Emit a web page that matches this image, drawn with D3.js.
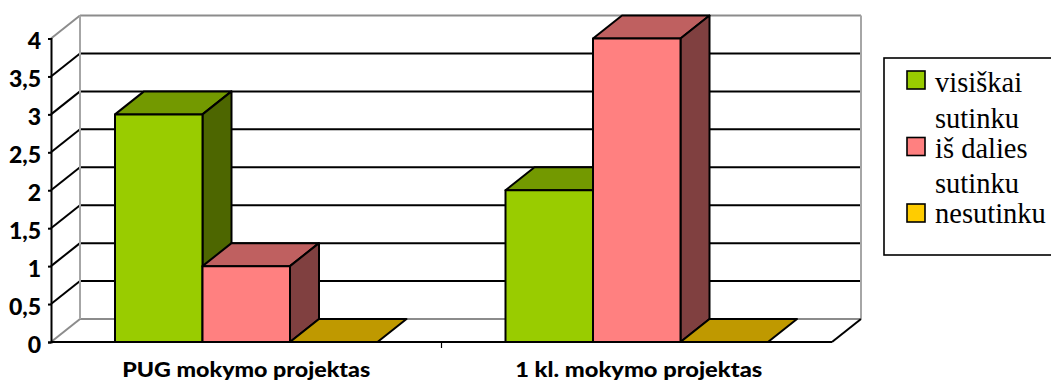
<!DOCTYPE html>
<html>
<head>
<meta charset="utf-8">
<title>Mokymo projektai</title>
<script src="https://cdn.jsdelivr.net/npm/d3@7"></script>
<style>
html,body{margin:0;padding:0;background:#fff;overflow:hidden}
svg{display:block}
</style>
</head>
<body>
<svg id="chart" width="1051" height="383"></svg>
<script>
const categories = ["PUG mokymo projektas", "1 kl. mokymo projektas"];
const seriesNames = ["visiškai sutinku", "iš dalies sutinku", "nesutinku"];
const visiskaiSutinku = [3, 2];
const isDaliesSutinku = [1, 4];
const nesutinku = [0, 0];
const seriesValues = [visiskaiSutinku, isDaliesSutinku, nesutinku];
const yTicks = [0, 0.5, 1, 1.5, 2, 2.5, 3, 3.5, 4];
const yTickLabels = ["0", "0,5", "1", "1,5", "2", "2,5", "3", "3,5", "4"];
const legendLines = [["visiškai", "sutinku"], ["iš dalies", "sutinku"], ["nesutinku"]];

const frontColors = ["#99cc00", "#ff8080", "#ffcc00"];
const topColors = ["#739900", "#bf6060", "#bf9900"];
const sideColors = ["#4d6600", "#804040", "#806600"];

// Oblique projection: every depth edge runs by this offset.
const depthX = 29, depthY = -23;
const wallGray = "#8c8c8c";
const strokeW = 2;

const svg = d3.select("#chart");
const y = d3.scaleLinear().domain([0, 4]).range([342, 38.5]);
const xBand = d3.scaleBand().domain(categories).range([51, 832]);
const barW = 87.5;
const barGap = (xBand.bandwidth() - barW * seriesNames.length) / 2;

const poly = pts => pts.map(p => p.join(",")).join(" ");
const xL = xBand.range()[0], xR = xBand.range()[1];

// Back wall and the horizontal grid with its slanted run down the side wall
const grid = svg.append("g");
grid.selectAll("line.back").data(yTicks).join("line")
  .attr("x1", xL + depthX).attr("x2", xR + depthX)
  .attr("y1", d => y(d) + depthY).attr("y2", d => y(d) + depthY)
  .attr("stroke", d => (d === 0 || d === 4) ? wallGray : "#000")
  .attr("stroke-width", strokeW);
grid.selectAll("line.side").data(yTicks).join("line")
  .attr("x1", xL).attr("x2", xL + depthX)
  .attr("y1", d => y(d)).attr("y2", d => y(d) + depthY)
  .attr("stroke", d => (d === 0 || d === 4) ? wallGray : "#000")
  .attr("stroke-width", strokeW);
[xL + depthX, xR + depthX].forEach(x => {
  grid.append("line").attr("x1", x).attr("x2", x)
    .attr("y1", y(4) + depthY).attr("y2", y(0) + depthY)
    .attr("stroke", "#a6a6a6").attr("stroke-width", 2);
});
grid.append("line")
  .attr("x1", xR).attr("y1", y(0))
  .attr("x2", xR + depthX).attr("y2", y(0) + depthY)
  .attr("stroke", "#000").attr("stroke-width", strokeW);

// Floor front edge and the divider tick between categories
svg.append("line").attr("x1", xL).attr("x2", xR).attr("y1", y(0)).attr("y2", y(0))
  .attr("stroke", "#000").attr("stroke-width", strokeW);
svg.append("line")
  .attr("x1", xBand(categories[1])).attr("x2", xBand(categories[1]))
  .attr("y1", y(0)).attr("y2", y(0) + 6)
  .attr("stroke", "#000").attr("stroke-width", 1.2);

// Bars, one 3D block per value: top, side, then front face
const bars = svg.append("g").attr("stroke", "#000").attr("stroke-width", strokeW).attr("stroke-linejoin", "round");
categories.forEach((cat, c) => {
  seriesValues.forEach((vals, s) => {
    const x0 = xBand(cat) + barGap + s * barW, x1 = x0 + barW;
    const yT = y(vals[c]), yB = y(0);
    bars.append("polygon").attr("fill", topColors[s])
      .attr("points", poly([[x0, yT], [x0 + depthX, yT + depthY], [x1 + depthX, yT + depthY], [x1, yT]]));
    if (vals[c] > 0) {
      bars.append("polygon").attr("fill", sideColors[s])
        .attr("points", poly([[x1, yT], [x1 + depthX, yT + depthY], [x1 + depthX, yB + depthY], [x1, yB]]));
      bars.append("rect").attr("fill", frontColors[s])
        .attr("x", x0).attr("y", yT).attr("width", barW).attr("height", yB - yT);
    }
  });
});

// Value axis
const yAxis = d3.axisLeft(y).tickValues(yTicks)
  .tickFormat((d, i) => yTickLabels[i]).tickSize(3).tickPadding(7);
const yG = svg.append("g").attr("transform", `translate(${xL},0)`).call(yAxis);
yG.select(".domain").attr("stroke", "#000").attr("stroke-width", strokeW);
yG.selectAll(".tick line").attr("stroke", "#000").attr("stroke-width", strokeW);
yG.selectAll(".tick text")
  .attr("font-family", "Lato, sans-serif").attr("font-weight", 900).attr("font-size", 23)
  .attr("fill", "#000").attr("dy", "0.62em").attr("y", -4);

// Category labels, fitted to a fixed run length under each group
const catWidth = [248, 247];
const catShift = [0, 2];
svg.selectAll("text.cat").data(categories).join("text")
  .attr("class", "cat")
  .attr("x", (d, i) => xBand(d) + xBand.bandwidth() / 2 + catShift[i]).attr("y", 377)
  .attr("text-anchor", "middle")
  .attr("textLength", (d, i) => catWidth[i]).attr("lengthAdjust", "spacingAndGlyphs")
  .attr("font-family", "Lato, sans-serif").attr("font-weight", 900).attr("font-size", 21)
  .attr("fill", "#000").text(d => d);

// Legend
const legend = svg.append("g");
legend.append("rect").attr("x", 884).attr("y", 58).attr("width", 190).attr("height", 197)
  .attr("fill", "#fff").attr("stroke", "#000").attr("stroke-width", 1.6);
const swatchY = [71, 137.5, 204];
const lineY = [[92, 128], [158, 193], [223]];
seriesNames.forEach((name, s) => {
  legend.append("rect").attr("x", 907).attr("y", swatchY[s]).attr("width", 18).attr("height", 18)
    .attr("fill", frontColors[s]).attr("stroke", "#000").attr("stroke-width", 1.6);
  legendLines[s].forEach((line, l) => {
    legend.append("text").attr("x", 935).attr("y", lineY[s][l])
      .attr("font-family", "'Liberation Serif', serif").attr("font-size", 28.5)
      .attr("fill", "#000").text(line);
  });
});
</script>
</body>
</html>
